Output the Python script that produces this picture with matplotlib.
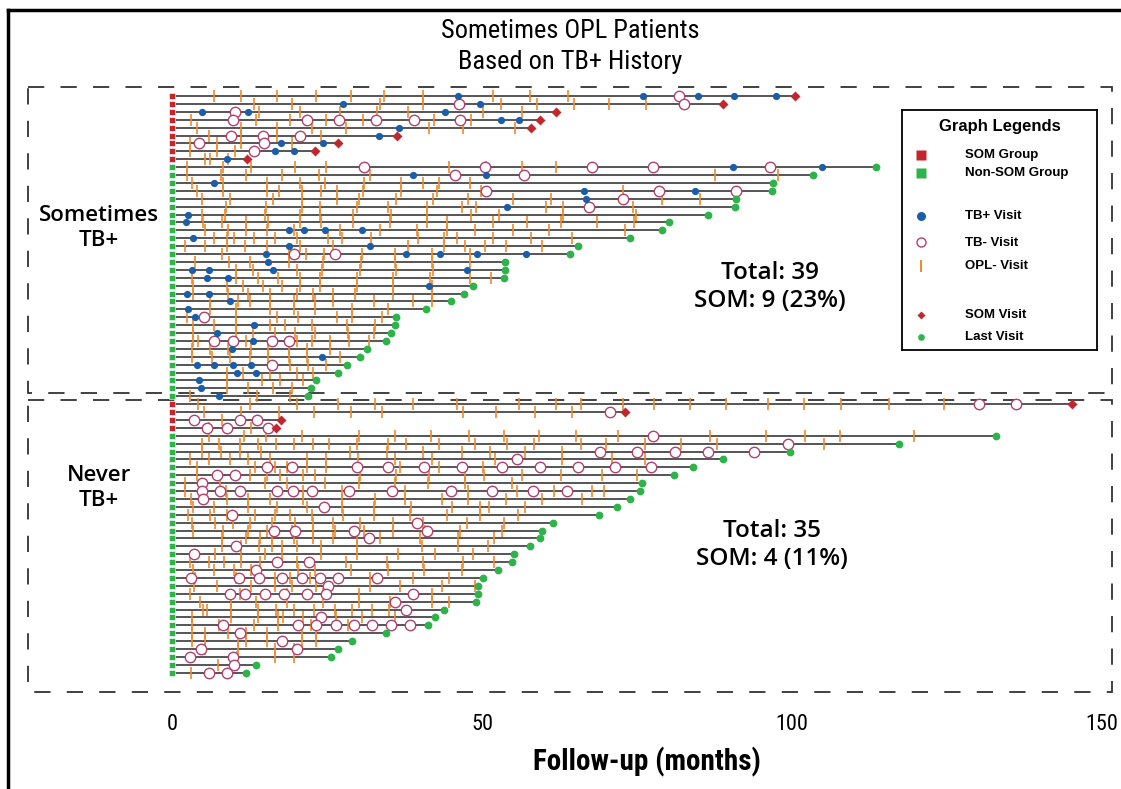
import matplotlib
matplotlib.use('Agg')
import matplotlib.pyplot as plt
from matplotlib.patches import Rectangle
from matplotlib.lines import Line2D

# ---- data: follow-up in months, one entry per patient, top to bottom ----

# Sometimes TB+ panel (39 patients, first 9 developed SOM)
top_som = [1, 1, 1, 1, 1, 1, 1, 1, 1,
           0, 0, 0, 0, 0, 0, 0, 0, 0, 0, 0, 0, 0, 0, 0,
           0, 0, 0, 0, 0, 0, 0, 0, 0, 0, 0, 0, 0, 0, 0]
top_end = [100.5, 88.8, 61.9, 59.4, 57.9, 36.3, 26.8, 23.1, 12.1,
           113.5, 103.4, 97.0, 96.7, 90.9, 90.8, 86.5, 80.2, 79.1, 73.8,
           65.5, 64.2, 53.7, 53.7, 53.6, 48.5, 47.1, 45.0, 40.9, 36.1,
           35.9, 35.3, 34.5, 31.4, 30.3, 28.3, 26.7, 23.3, 22.4, 22.0]
top_tbpos = [
    [46.2, 75.9, 84.8, 90.7, 97.4],
    [27.6, 49.7],
    [4.9, 12.2, 44.1],
    [53.1, 55.9],
    [36.6],
    [33.4],
    [17.6, 24.4],
    [16.6, 19.6],
    [8.8],
    [90.5, 104.9],
    [38.8, 50.6],
    [6.8],
    [66.5, 84.4],
    [66.7],
    [54.0],
    [2.5],
    [2.2],
    [18.9, 21.3, 24.7, 30.7],
    [3.4],
    [18.8, 31.9],
    [15.1, 37.8, 43.3, 49.2, 57.1],
    [15.5],
    [3.3, 6.0, 16.3, 47.5],
    [5.6, 9.1],
    [41.5],
    [2.4, 5.9],
    [9.4],
    [2.5],
    [3.7],
    [13.3],
    [7.3],
    [13.0],
    [9.6],
    [24.2],
    [4.0, 6.8, 9.9, 12.8],
    [10.5, 13.5],
    [4.4],
    [4.7],
    [7.5],
]
top_tbneg = [
    [81.8], [46.3, 82.5], [10.2], [9.9, 21.7, 27.0, 32.9, 39.0, 46.4], [],
    [9.5, 14.7, 20.6], [4.4, 14.9], [13.2], [],
    [30.9, 50.5, 67.7, 77.6, 96.5], [45.6, 56.7], [], [50.6, 78.5, 90.9],
    [72.8], [67.2], [], [], [], [], [], [19.6, 26.3], [], [], [], [], [],
    [], [], [5.2], [], [], [6.8, 9.9, 16.1, 18.9], [], [], [16.1], [], [],
    [], [],
]
top_opl = [
    [6.8, 11.1, 17.0, 23.3, 28.8, 34.2, 40.5, 51.8, 57.7, 63.9],
    [13.3, 19.3, 33.5, 40.5, 53.0, 58.9, 64.8, 70.5, 76.4],
    [14.0, 20.6, 27.1, 33.0, 38.1, 50.2, 56.4],
    [3.1, 13.5, 19.0, 24.8, 30.8, 42.3, 48.2],
    [4.0, 11.2, 17.0, 22.5, 28.0, 41.5, 47.0, 55.3],
    [5.9, 11.2, 17.0, 24.0],
    [2.9, 7.2, 11.2, 19.3],
    [2.9, 7.2, 10.2],
    [5.3, 6.2, 9.0],
    [2.4, 8.3, 12.7, 19.8, 24.8, 44.6, 50.6, 56.5, 61.9],
    [2.4, 7.9, 11.9, 17.7, 23.7, 32.0, 87.6, 97.8],
    [3.3, 8.3, 15.3, 20.6, 24.6, 31.0, 36.9, 40.5, 43.0, 48.0],
    [4.1, 8.3, 15.4, 17.3, 21.0, 24.0, 26.6, 30.8, 36.9, 42.7, 49.9, 72.7],
    [4.9, 9.3, 16.3, 20.9, 26.6, 30.1, 36.1, 42.1, 47.8, 55.0, 61.2, 79.1, 85.2],
    [8.7, 15.2, 20.9, 23.8, 29.8, 34.9, 41.1, 46.7, 49.1, 60.4, 63.0, 74.3],
    [4.9, 8.5, 15.0, 20.6, 23.9, 29.2, 35.4, 41.1, 48.3, 52.7, 63.0, 74.8],
    [5.0, 8.1, 12.0, 15.5, 20.6, 24.0, 29.2, 35.2, 41.2, 44.4, 51.7, 57.2, 62.7, 68.5, 74.5],
    [5.3, 9.0, 12.0, 15.3, 19.7, 27.1, 33.5, 39.5, 44.3, 48.9, 55.0, 60.8, 73.0],
    [6.7, 8.8, 10.0, 13.2, 16.6, 20.1, 25.2, 27.4, 32.1, 39.7, 43.8, 45.9, 51.7, 57.9, 64.5],
    [2.1, 5.4, 8.8, 11.8, 15.3, 20.6, 26.0, 38.1, 43.8, 47.3, 50.5, 53.8, 59.7],
    [8.0, 18.8, 21.6, 24.5, 30.6, 36.0, 42.0, 48.0],
    [3.7, 9.2, 12.5, 18.8, 24.4, 30.5, 36.0, 42.0, 48.0],
    [10.4, 13.1, 20.1, 24.2, 30.3, 36.2, 42.1],
    [3.2, 10.4, 13.8, 17.1, 20.6, 23.9, 29.8, 35.7, 41.6, 48.1, 51.5],
    [3.4, 8.8, 11.5, 14.7, 17.7, 20.6, 23.9, 29.8, 35.7, 41.9],
    [3.4, 9.1, 12.3, 15.8, 20.1, 22.8, 26.0, 29.5, 35.7, 41.9],
    [6.1, 10.7, 12.6, 15.8, 19.6, 23.1, 26.0, 32.5, 38.8, 42.0],
    [6.1, 10.4, 15.8, 19.6, 23.1, 29.0, 34.9],
    [2.4, 10.4, 17.0, 20.4, 26.6, 29.1, 33.8],
    [3.4, 6.8, 10.4, 15.8, 18.2, 22.5, 28.2, 32.7],
    [3.4, 10.4, 13.1, 16.6, 19.8, 23.1, 28.4, 32.5],
    [3.4, 4.2, 12.0, 20.1, 22.5, 25.5, 28.6, 31.7],
    [3.3, 6.1, 9.1, 12.7, 15.5, 18.8, 21.7, 25.5],
    [3.2, 6.4, 9.4, 12.6, 15.5, 18.8, 21.7, 27.1],
    [19.0, 22.0, 24.9],
    [8.8, 11.5, 15.8, 20.1, 22.8],
    [8.8, 14.5, 17.4, 21.2],
    [8.8, 12.3, 16.3, 19.3],
    [2.9, 13.7, 19.0],
]

# Never TB+ panel (35 patients, first 4 developed SOM)
bot_som = [1, 1, 1, 1,
           0, 0, 0, 0, 0, 0, 0, 0, 0, 0, 0, 0, 0, 0, 0, 0,
           0, 0, 0, 0, 0, 0, 0, 0, 0, 0, 0, 0, 0, 0, 0]
bot_end = [145.2, 73.0, 17.5, 16.7,
           132.9, 117.2, 99.6, 88.8, 84.1, 80.9, 75.8, 75.5, 73.8, 71.8,
           68.8, 61.5, 59.6, 59.4, 57.7, 55.2, 54.8, 52.6, 50.1, 49.4, 49.3,
           49.1, 43.9, 42.4, 41.3, 34.5, 29.1, 26.7, 25.6, 13.6, 12.0]
bot_tbneg = [
    [130.2, 136.2], [70.6], [3.6, 10.9, 13.7], [5.7, 8.8, 15.5],
    [77.6], [99.4], [69.1, 75.0, 81.1, 86.5, 93.9], [55.6],
    [15.3, 19.4, 29.9, 34.8, 40.6, 46.7, 53.3, 59.4, 65.5, 71.5, 77.3],
    [7.2, 10.2], [4.8],
    [4.9, 7.8, 11.0, 16.9, 19.5, 22.5, 28.6, 35.5, 45.0, 51.6, 58.3, 63.7],
    [5.0], [24.5], [9.7], [39.5], [16.4, 19.8, 29.4, 41.1], [31.7], [10.4],
    [3.5], [17.0, 22.1], [13.5],
    [3.0, 10.8, 14.0, 17.7, 20.9, 23.9, 26.7, 33.0], [25.1],
    [9.4, 11.7, 15.0, 18.0, 21.7, 24.8, 38.9], [36.0], [37.8], [24.0],
    [8.3, 20.4, 23.2, 26.4, 29.4, 32.3, 35.3, 38.4], [10.9], [17.8],
    [4.6, 20.2], [2.9, 9.8], [10.0], [5.9, 8.8],
]
bot_opl = [
    [4.2, 12.6, 20.1, 26.8, 32.7, 38.8, 45.9, 55.9, 62.0, 65.9, 72.8, 77.7,
     83.5, 89.4, 96.1, 102.0, 107.9, 115.6, 124.5],
    [5.1, 11.1, 17.2, 22.9, 28.8, 33.9, 46.9, 52.2, 58.6, 64.5],
    [8.1],
    [5.9, 12.8],
    [5.9, 11.6, 15.1, 20.9, 30.1, 36.0, 41.7, 47.9, 53.5, 59.2, 65.2, 72.0,
     86.7, 95.8, 102.1, 107.8, 119.6],
    [4.8, 7.6, 11.0, 13.9, 16.8, 19.7, 22.7, 25.4, 29.8, 34.8, 37.7, 43.1,
     48.9, 54.1, 58.4, 65.9, 70.0, 76.3, 82.1, 87.9, 105.2],
    [4.8, 7.9, 11.0, 14.4, 28.7, 34.6, 40.5, 46.7, 51.3, 56.9, 62.9],
    [2.9, 5.9, 9.4, 12.3, 15.8, 21.7, 24.9, 30.0, 36.0, 42.0, 52.1, 62.9, 70.9, 76.3],
    [4.1, 13.4, 16.6, 18.5, 21.7, 24.9, 36.8, 43.0, 50.2],
    [4.1, 12.6, 15.3, 17.4, 21.2, 23.1, 30.3, 36.2, 41.5, 47.3, 50.3, 56.5,
     62.8, 69.3, 75.0],
    [2.1, 7.7, 15.0, 18.5, 24.7, 30.1, 36.0, 41.3, 47.3, 54.8],
    [2.1, 8.7, 21.2, 27.4, 37.6, 47.8, 55.7, 61.6, 67.7, 69.6],
    [3.0, 8.8, 12.3, 15.8, 21.2, 27.4, 32.7, 37.6, 43.5, 47.8, 53.8, 59.7, 66.1],
    [3.4, 6.7, 12.3, 16.9, 21.7, 27.4, 32.5, 38.6, 45.1, 49.7, 51.2, 57.0],
    [2.6, 6.1, 8.8, 13.4, 16.6, 19.0, 22.5, 27.6, 32.5, 38.4, 44.3, 49.7, 55.8],
    [3.3, 7.0, 9.9, 12.6, 16.1, 19.8, 22.8, 26.0, 30.3, 35.6, 40.5, 47.5, 53.6],
    [3.4, 8.3, 12.3, 15.3, 19.3, 22.8, 26.3, 30.9, 35.7, 40.8, 46.5, 53.3],
    [8.0, 12.0, 14.2, 16.1, 19.6, 22.8, 26.0, 29.8, 33.5, 40.0, 46.2, 52.0],
    [8.1, 11.2, 14.0, 16.1, 17.8, 20.1, 24.1, 29.8, 40.3, 46.2, 51.0],
    [6.9, 11.2, 15.0, 17.8, 24.1, 29.9, 36.5, 42.4, 48.6],
    [2.9, 5.9, 8.4, 11.2, 14.2, 20.1, 28.0, 34.6, 40.5, 46.9, 52.0],
    [3.4, 6.7, 10.0, 12.7, 14.2, 20.4, 23.1, 28.8, 34.8, 40.7, 46.7],
    [3.7, 10.4, 16.6, 19.0, 22.3, 31.9, 38.9, 44.6],
    [3.6, 7.2, 12.7, 16.6, 19.3, 23.3, 31.9, 36.8, 43.5, 48.9],
    [2.9, 11.0, 18.5, 24.4, 30.2, 41.9],
    [4.5, 9.5, 13.5, 18.5, 24.4, 30.2, 35.2, 41.9, 44.6],
    [5.0, 5.6, 9.5, 13.8, 16.8, 19.6, 22.9, 26.3, 29.1, 32.2, 35.0],
    [3.2, 9.5, 13.8, 17.1, 17.9, 21.2, 26.4, 30.6, 36.0],
    [3.2, 7.6, 13.2, 17.1, 22.4, 28.4],
    [3.2, 5.4, 9.1, 12.0, 15.4, 21.0, 23.3],
    [3.2, 5.4, 10.7, 12.0, 15.4, 20.9, 23.3],
    [5.3, 10.7, 16.6, 19.6],
    [10.5, 16.6, 19.6],
    [7.4, 10.5],
    [3.0],
]

tick_values = [0, 50, 100, 150]
group_labels = ['Sometimes\nTB+', 'Never\nTB+']
group_totals = ['Total: 39\nSOM: 9 (23%)', 'Total: 35\nSOM: 4 (11%)']

# ---- colours ----
RED = '#c1272d'
GREEN = '#2db34a'
BLUE = '#1a5dab'
PINK = '#b3406e'
ORANGE = '#ef8a2c'
LINE = '#484848'

W, H = 1121, 789
fig = plt.figure(figsize=(W / 100, H / 100), dpi=100)


def fx(px):
    return px / W


def fy(py):
    return 1 - py / H


ax = fig.add_axes([fx(28), fy(692), fx(1112) - fx(28), fy(87) - fy(692)])

PX_PER_MONTH = 6.2
ROW_PX = 7.9
ax.set_xlim((28 - 172) / PX_PER_MONTH, (1112 - 172) / PX_PER_MONTH)
ax.set_ylim((692 - 96) / ROW_PX, (87 - 96) / ROW_PX)

som_all = top_som + bot_som
end_all = top_end + bot_end
pos_all = top_tbpos + [[] for _ in bot_end]
neg_all = top_tbneg + bot_tbneg
opl_all = top_opl + bot_opl

for i in range(len(end_all)):
    end = end_all[i]
    ax.plot([0, end], [i, i], color=LINE, lw=1.3, zorder=1, solid_capstyle='butt')
    opl = opl_all[i]
    ax.plot(opl, [i] * len(opl), ls='none', marker='|', ms=8, mew=1.2,
            color=ORANGE, zorder=2)
    neg = neg_all[i]
    ax.plot(neg, [i] * len(neg), ls='none', marker='o', ms=7.5, mfc='white',
            mec=PINK, mew=1.0, zorder=3)
    pos = pos_all[i]
    ax.plot(pos, [i] * len(pos), ls='none', marker='o', ms=5.2, color=BLUE,
            mec='none', zorder=4)
    if som_all[i]:
        ax.plot([end], [i], marker='D', ms=4.6, color=RED, mec='none', zorder=5)
    else:
        ax.plot([end], [i], marker='o', ms=5.6, color=GREEN, mec='none', zorder=5)
    ax.plot([0], [i], marker='s', ms=4.9, color=RED if som_all[i] else GREEN,
            mec='white', mew=0.4, zorder=6)

# dashed group boxes
x0, x1 = ax.get_xlim()
y_top0 = (87 - 96) / ROW_PX
y_top1 = (393 - 96) / ROW_PX
y_bot0 = (400 - 96) / ROW_PX
y_bot1 = (692 - 96) / ROW_PX
for ya, yb in [(y_top0, y_top1), (y_bot0, y_bot1)]:
    ax.add_patch(Rectangle((x0, ya), x1 - x0, yb - ya, fill=False,
                           ec='#333333', lw=1.3, ls=(0, (9, 9)),
                           clip_on=False, zorder=0))

narrow = ['Roboto Condensed', 'Liberation Sans Narrow', 'DejaVu Sans']
side = ['Open Sans', 'DejaVu Sans']

for s in ax.spines.values():
    s.set_visible(False)
ax.set_yticks([])
ax.set_xticks(tick_values)
ax.set_xticklabels([str(t) for t in tick_values], family=narrow, fontsize=16)
ax.tick_params(axis='x', length=0, pad=16)

# group names on the left
ax.text((99 - 172) / PX_PER_MONTH, (228 - 96) / ROW_PX, group_labels[0],
        ha='center', va='center', fontsize=16, fontweight='semibold',
        family=side, linespacing=1.25)
ax.text((99 - 172) / PX_PER_MONTH, (488 - 96) / ROW_PX, group_labels[1],
        ha='center', va='center', fontsize=16, fontweight='semibold',
        family=side, linespacing=1.25)

# totals
ax.text((770 - 172) / PX_PER_MONTH, (287 - 96) / ROW_PX, group_totals[0],
        ha='center', va='center', fontsize=17.5, fontweight='semibold',
        family=side, linespacing=1.2)
ax.text((772 - 172) / PX_PER_MONTH, (545 - 96) / ROW_PX, group_totals[1],
        ha='center', va='center', fontsize=17.5, fontweight='semibold',
        family=side, linespacing=1.2)

# title and axis label
fig.text(fx(570), fy(31), 'Sometimes OPL Patients', ha='center', va='center',
         fontsize=19, family=narrow)
fig.text(fx(570), fy(62), 'Based on TB+ History', ha='center', va='center',
         fontsize=19, family=narrow)
fig.text(fx(647), fy(762), 'Follow-up (months)', ha='center', va='center',
         fontsize=21, fontweight='bold', family=narrow)

# figure frame (left and top)
fig.add_artist(Line2D([fx(8), fx(8)], [0, fy(10)], color='black', lw=2.5))
fig.add_artist(Line2D([fx(8), 1], [fy(10), fy(10)], color='black', lw=2.5))

# legend box
lx0, ly0, lx1, ly1 = 902, 110, 1097, 350
lax = fig.add_axes([fx(lx0), fy(ly1), fx(lx1) - fx(lx0), fy(ly0) - fy(ly1)])
lax.set_xlim(lx0, lx1)
lax.set_ylim(ly1, ly0)
lax.set_xticks([])
lax.set_yticks([])
for s in lax.spines.values():
    s.set_linewidth(1.3)
leg_font = ['Liberation Sans', 'DejaVu Sans']
lax.text(1000, 127, 'Graph Legends', ha='center', va='center', fontsize=12,
         fontweight='bold', family=leg_font)
mx, tx = 921, 965
lax.plot([mx], [155], marker='s', ms=7, color=RED, mec='none')
lax.plot([mx], [173], marker='s', ms=7, color=GREEN, mec='none')
lax.plot([mx], [216], marker='o', ms=6.5, color=BLUE, mec='none')
lax.plot([mx], [242], marker='o', ms=6.5, mfc='white', mec=PINK, mew=1.0)
lax.plot([mx], [266], marker='|', ms=9, mew=1.4, color=ORANGE)
lax.plot([mx], [315], marker='D', ms=4.2, color=RED, mec='none')
lax.plot([mx], [337], marker='o', ms=4.8, color=GREEN, mec='none')
for yy, lab in [(155, 'SOM Group'), (173, 'Non-SOM Group'), (216, 'TB+ Visit'),
                (243, 'TB- Visit'), (266, 'OPL- Visit'), (315, 'SOM Visit'),
                (337, 'Last Visit')]:
    lax.text(tx, yy, lab, ha='left', va='center', fontsize=9.5,
             fontweight='bold', family=leg_font)

fig.savefig('out.png', dpi=100)
